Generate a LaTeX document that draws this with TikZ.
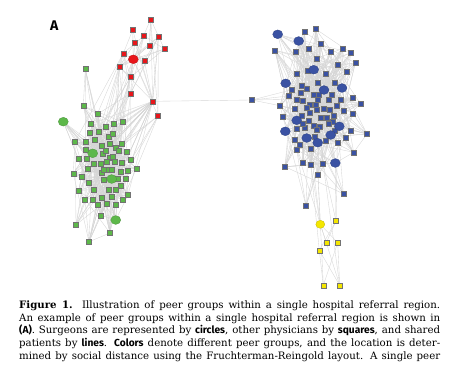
\documentclass[tikz,border=0pt]{standalone}
\usepackage{fontspec}
\setmainfont{DejaVu Serif}
\newfontfamily\capsans{Fira Sans}
\usetikzlibrary{shapes.geometric}
\pgfdeclarelayer{bg}
\pgfsetlayers{bg,main}
\definecolor{nred}{HTML}{E8161B}
\definecolor{ngreen}{HTML}{5DB84A}
\definecolor{nblue}{HTML}{3A52A3}
\definecolor{nyellow}{HTML}{F4E600}
\definecolor{edgegray}{HTML}{D6D6D6}
\begin{document}
\begin{tikzpicture}[x=1pt,y=-1pt,
  sq/.style={rectangle, draw=black!55, line width=0.35pt, minimum size=4.8pt, inner sep=0pt},
  rsq/.style={sq, fill=nred},
  gsq/.style={sq, fill=ngreen},
  bsq/.style={sq, fill=nblue},
  ysq/.style={sq, fill=nyellow},
  circ/.style={ellipse, minimum width=10pt, minimum height=8.8pt, inner sep=0pt, draw=#1!80!black, line width=0.3pt, fill=#1},
  ed/.style={draw=edgegray, line width=0.35pt},
  capline/.style={anchor=base west, inner sep=0pt, font=\fontsize{10.2}{12}\selectfont}]
\useasboundingbox (0,0) rectangle (452,381);

\node[anchor=base west, inner sep=0pt, font=\capsans\bfseries\fontsize{14}{14}\selectfont] (lblA) at (50,30) {A};

% red group
\foreach \x/\y [count=\i] in {150.7/19.3,132.7/30,144/35.7,158.3/37,135/42.7,149.3/45.3,164.3/49,123.3/53.3,144.3/60.7,119.3/66.7,130.7/77,130.7/93.3,152.7/101.3,158/116}
  \node[rsq] (r\i) at (\x,\y) {};
\node[circ=nred] (rc) at (133.3,59.3) {};

% green group
\foreach \x/\y [count=\i] in {85.3/69,83.3/106,97.7/114,91/123.7,105.3/126.7,113.3/123.3,122.3/122,89.3/132.7,98.7/131.3,108.3/136.3,112.7/134,75/141.7,85.7/141.7,94.3/139.3,102/145.7,110/144,115.3/147.3,121.7/143.7,85.7/150,102.3/153.3,106/150.7,119/151,126.7/151.3,78.3/159,87/158.7,109.3/157.3,113/157,107/161.3,114.7/161.7,121.3/162.7,131/159.7,94/164,100.7/164,87.3/168.3,73.3/173.3,81.3/176.7,101.3/172.7,104/169.3,108.3/170,112/170,121/172,128/170.3,136.3/168.7,103.3/179.7,117.3/178.7,125.3/178.7,88.7/182.7,121/186,79/190.7,93.3/189.3,108.3/189.3,115.7/189.3,128/195,85/199.3,92.3/199.3,101.3/197.7,111.3/197,122.3/200,97.3/205,106.7/204,116/204.3,101/215.3,76/224.7,110/233,89/241.7}
  \node[gsq] (g\i) at (\x,\y) {};
\foreach \x/\y [count=\i] in {63.3/121.7,92.7/153.3,111.7/179,115.7/220}
  \node[circ=ngreen] (gc\i) at (\x,\y) {};

% blue group
\node[bsq] (bo) at (252,100) {};
\foreach \x/\y [count=\i] in {304.3/31.3,315.7/29,321/43.7,275/50.3,295.3/51.7,308.3/48.7,331/51.7,342.3/48.7,350.7/52.7,317/58.3,337.7/64.7,355.3/63,307.3/70.3,297/73.7,325.7/74,346.3/71.7,302/86,318/82.7,334.3/82.3,292/89.7,306.7/88.7,313.3/94.7,319/95,331.7/94.3,288.3/96,300.7/92.7,296.7/99.3,302.7/101,317.3/100,329/99.3,341/100,352.3/97.7,280/105.7,310/104.3,316/105,324/108.3,336.7/105.3,360.3/103.7,295/109,307/108,317/110,329.7/109.3,344/110.7,282.7/116.7,301.7/115.7,310/112.7,320.7/117.3,333.7/115.3,353/114,308.7/120.3,326.3/118,332.3/121.3,314/125.7,320/126.3,329/123.3,305/127.3,303/123.7,297/128.7,317/129.3,334.3/130.7,351/130.7,345.3/137.3,367/134,295/140,314.3/136.7,326/140.7,337.3/143,300/145,310.7/148.3,296.7/150,353.7/152.3,302.7/162.7,310.7/165,323/163.3,285/166.7,318/175,343.3/193.7,306/205.7}
  \node[bsq] (b\i) at (\x,\y) {};
\foreach \x/\y [count=\i] in {277.7/34.3,298.7/41,313.7/69.7,285.7/83.3,324/90,342/88,296.7/120.3,285.3/131.3,339.3/126.3,330.7/135,306.7/138,317.7/142.7,335.3/163}
  \node[circ=nblue] (bc\i) at (\x,\y) {};

% yellow group
\foreach \x/\y [count=\i] in {336/221,326.3/242.7,337.7/242.7,319.3/250.3,323.3/285.3,339.7/285.3}
  \node[ysq] (y\i) at (\x,\y) {};
\node[circ=nyellow, minimum width=9pt, minimum height=8pt] (yc) at (320.3,224.3) {};

% caption
\node[capline] (cap1) at (19,308.5) {\makebox[421pt][s]{\textbf{Figure 1.} Illustration of peer groups within a single hospital referral region.}};
\node[capline] (cap2) at (19,321.2) {\makebox[421pt][s]{An example of peer groups within a single hospital referral region is shown in}};
\node[capline] (cap3) at (19,333.9) {\makebox[421pt][s]{{\capsans\bfseries(A)}. Surgeons are represented by {\capsans\bfseries circles}, other physicians by {\capsans\bfseries squares}, and shared}};
\node[capline] (cap4) at (19,346.6) {\makebox[421pt][s]{patients by {\capsans\bfseries lines}. {\capsans\bfseries Colors} denote different peer groups, and the location is deter-}};
\node[capline] (cap5) at (19,359.3) {\makebox[421pt][s]{mined by social distance using the Fruchterman-Reingold layout. A single peer}};

\begin{pgfonlayer}{bg}
\fill[white] (0,0) rectangle (452,381);
\pgfmathsetseed{11}
% green edges
\foreach \i in {1,...,65}{
  \foreach \k in {1,2,3,4,5}{
    \pgfmathrandominteger{\j}{2}{65}
    \ifnum\j=\i\relax\else\draw[ed] (g\i) -- (g\j);\fi
  }
  \pgfmathrandominteger{\c}{1}{4}
  \draw[ed] (g\i) -- (gc\c);
}
% red edges
\foreach \i in {1,...,14}{
  \draw[ed] (r\i) -- (rc);
  \foreach \k in {1,2}{
    \pgfmathrandominteger{\j}{1}{14}
    \ifnum\j=\i\relax\else\draw[ed] (r\i) -- (r\j);\fi
  }
}
\foreach \k in {1,...,22}{
  \pgfmathrandominteger{\j}{2}{65}
  \draw[ed] (r13) -- (g\j);
}
\foreach \s in {r10,r11,r12,rc,r8,r14}{
  \foreach \k in {1,...,5}{
    \pgfmathrandominteger{\j}{2}{65}
    \draw[ed] (\s) -- (g\j);
  }
}
\draw[ed] (r13) -- (bo);
\foreach \t in {b25,b33,b20,b27}{\draw[ed] (bo) -- (\t);}
% blue edges
\foreach \i in {1,...,78}{
  \foreach \k in {1,2,3,4,5}{
    \pgfmathrandominteger{\j}{1}{76}
    \ifnum\j=\i\relax\else\draw[ed] (b\i) -- (b\j);\fi
  }
  \pgfmathrandominteger{\c}{1}{13}
  \draw[ed] (b\i) -- (bc\c);
}
\foreach \i in {1,...,13}{
  \foreach \k in {1,2,3}{
    \pgfmathrandominteger{\j}{1}{76}
    \draw[ed] (bc\i) -- (b\j);
  }
}
% yellow edges
\draw[ed] (yc) -- (y3); \draw[ed] (yc) -- (y2); \draw[ed] (y1) -- (y2);
\draw[ed] (y1) -- (y4); \draw[ed] (y4) -- (y5); \draw[ed] (y4) -- (y6);
\draw[ed] (y3) -- (y5); \draw[ed] (y2) -- (y6); \draw[ed] (y3) -- (y6);
\draw[ed] (yc) -- (b73); \draw[ed] (yc) -- (b76); \draw[ed] (yc) -- (b69);
\draw[ed] (y1) -- (b74); \draw[ed] (y1) -- (b67); \draw[ed] (y1) -- (bc13);
\draw[ed] (y5) -- (b76); \draw[ed] (y6) -- (b74); \draw[ed] (y4) -- (b73);
\draw[ed] (y2) -- (b70);
\end{pgfonlayer}
\end{tikzpicture}
\end{document}
